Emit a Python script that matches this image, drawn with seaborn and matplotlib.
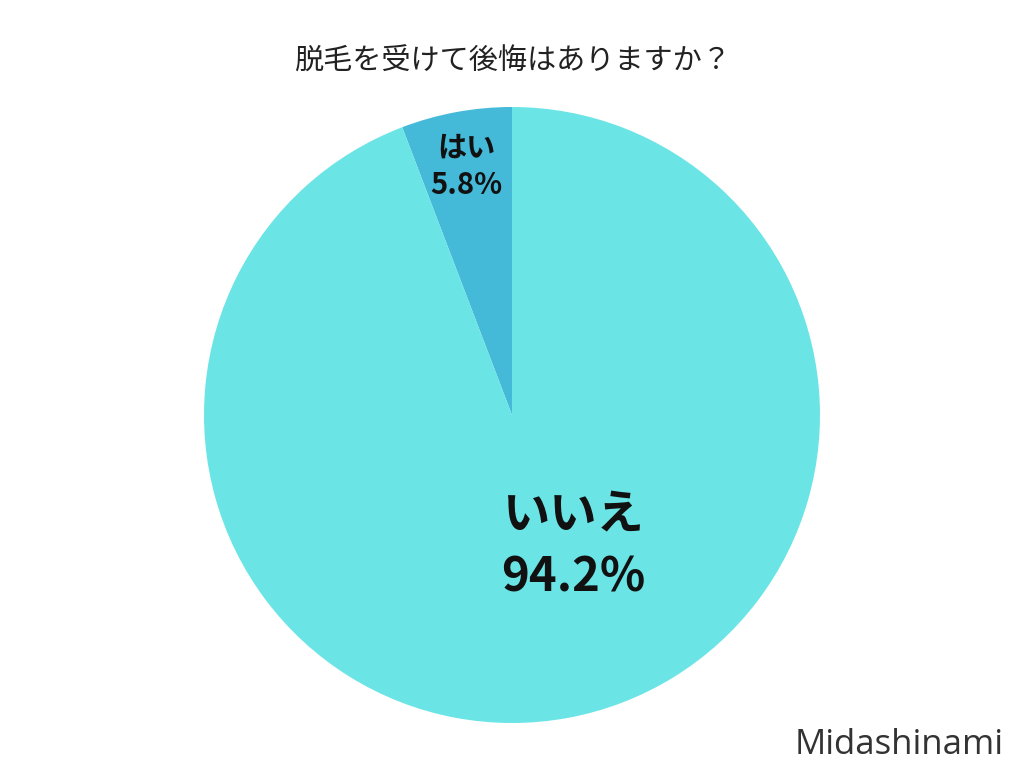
import matplotlib
matplotlib.use("Agg")
import matplotlib.pyplot as plt
import seaborn as sns

# data
labels = ["はい", "いいえ"]
values = [5.8, 94.2]
colors = ["#45B9D8", "#6BE4E6"]
title = "脱毛を受けて後悔はありますか？"

sns.set_theme(style="white")
plt.rcParams['font.family'] = ['Noto Sans CJK JP', 'DejaVu Sans']

fig = plt.figure(figsize=(10.24, 7.68), dpi=100)
fig.patch.set_facecolor("white")

# pie axes: center (512, 415) px, radius ~308 px
ax = fig.add_axes([(512 - 308) / 1024, (768 - 415 - 308) / 768, 616 / 1024, 616 / 768])
ax.pie(values, colors=colors, startangle=90, counterclock=True,
       wedgeprops=dict(linewidth=0))
ax.set_xlim(-1, 1)
ax.set_ylim(-1, 1)
ax.set_aspect("equal")
ax.axis("off")

# slice labels
ax.text(-0.149, 0.807, f"{labels[0]}\n{values[0]}%", ha="center", va="center",
        fontsize=21, fontweight="bold", color="#111111", linespacing=1.3)
ax.text(0.2, -0.425, f"{labels[1]}\n{values[1]}%", ha="center", va="center",
        fontsize=34, fontweight="bold", color="#111111", linespacing=1.4)

fig.text(0.5, 1 - 62 / 768, title, ha="center", va="center", fontsize=21, color="#222222")
fig.text(0.98, 1 - 745 / 768, "Midashinami", ha="right", va="center",
         fontsize=25, color="#333333", family=["Open Sans", "DejaVu Sans"])

fig.savefig("out.png", dpi=100, facecolor="white")
